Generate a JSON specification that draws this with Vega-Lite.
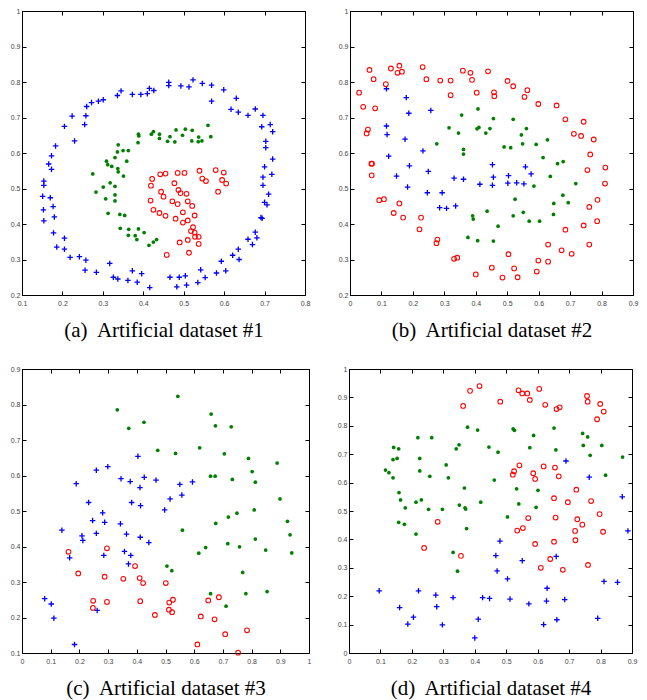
{
"$schema":"https://vega.github.io/schema/vega-lite/v6.json",
"padding":{"left":9,"top":6,"right":5,"bottom":5},
"background":"white",
"config":{"view":{"stroke":"black","strokeWidth":1},"axis":{"labelFont":"Liberation Sans","labelFontSize":7,"labelColor":"#444","labelFlush":false,"tickColor":"black","tickSize":-4,"tickWidth":1,"domain":true,"domainColor":"black","domainWidth":1,"grid":false,"labelPadding":8,"titleFont":"Liberation Serif","titleFontSize":21,"titleFontWeight":"normal","titleColor":"black","titlePadding":13},"axisY":{"labelPadding":6}},
"datasets":{
"a_b":[{"x":0.523,"y":0.806},{"x":0.546,"y":0.796},{"x":0.569,"y":0.791},{"x":0.493,"y":0.789},{"x":0.513,"y":0.786},{"x":0.463,"y":0.799},{"x":0.463,"y":0.79},{"x":0.599,"y":0.778},{"x":0.569,"y":0.746},{"x":0.63,"y":0.754},{"x":0.617,"y":0.723},{"x":0.635,"y":0.715},{"x":0.659,"y":0.706},{"x":0.677,"y":0.724},{"x":0.696,"y":0.706},{"x":0.693,"y":0.674},{"x":0.714,"y":0.68},{"x":0.72,"y":0.66},{"x":0.703,"y":0.633},{"x":0.703,"y":0.615},{"x":0.72,"y":0.583},{"x":0.7,"y":0.561},{"x":0.718,"y":0.54},{"x":0.696,"y":0.532},{"x":0.696,"y":0.509},{"x":0.71,"y":0.484},{"x":0.7,"y":0.461},{"x":0.706,"y":0.454},{"x":0.691,"y":0.418},{"x":0.694,"y":0.416},{"x":0.677,"y":0.377},{"x":0.681,"y":0.361},{"x":0.659,"y":0.357},{"x":0.67,"y":0.342},{"x":0.635,"y":0.329},{"x":0.637,"y":0.3},{"x":0.621,"y":0.312},{"x":0.593,"y":0.295},{"x":0.604,"y":0.268},{"x":0.581,"y":0.262},{"x":0.542,"y":0.271},{"x":0.553,"y":0.249},{"x":0.535,"y":0.235},{"x":0.504,"y":0.254},{"x":0.507,"y":0.228},{"x":0.489,"y":0.25},{"x":0.483,"y":0.223},{"x":0.466,"y":0.25},{"x":0.416,"y":0.221},{"x":0.396,"y":0.26},{"x":0.385,"y":0.236},{"x":0.373,"y":0.268},{"x":0.362,"y":0.241},{"x":0.337,"y":0.245},{"x":0.326,"y":0.25},{"x":0.317,"y":0.289},{"x":0.284,"y":0.264},{"x":0.256,"y":0.27},{"x":0.258,"y":0.298},{"x":0.242,"y":0.308},{"x":0.219,"y":0.306},{"x":0.205,"y":0.329},{"x":0.186,"y":0.335},{"x":0.205,"y":0.36},{"x":0.178,"y":0.375},{"x":0.18,"y":0.42},{"x":0.177,"y":0.449},{"x":0.17,"y":0.474},{"x":0.154,"y":0.409},{"x":0.153,"y":0.44},{"x":0.151,"y":0.478},{"x":0.154,"y":0.509},{"x":0.154,"y":0.521},{"x":0.173,"y":0.554},{"x":0.166,"y":0.569},{"x":0.173,"y":0.592},{"x":0.183,"y":0.62},{"x":0.23,"y":0.634},{"x":0.205,"y":0.675},{"x":0.224,"y":0.704},{"x":0.255,"y":0.68},{"x":0.258,"y":0.705},{"x":0.26,"y":0.731},{"x":0.272,"y":0.742},{"x":0.289,"y":0.746},{"x":0.301,"y":0.75},{"x":0.336,"y":0.762},{"x":0.345,"y":0.775},{"x":0.373,"y":0.765},{"x":0.394,"y":0.765},{"x":0.41,"y":0.767},{"x":0.415,"y":0.782},{"x":0.426,"y":0.776}],
"a_g":[{"x":0.56,"y":0.678},{"x":0.567,"y":0.646},{"x":0.537,"y":0.645},{"x":0.545,"y":0.634},{"x":0.536,"y":0.632},{"x":0.52,"y":0.634},{"x":0.521,"y":0.664},{"x":0.504,"y":0.667},{"x":0.497,"y":0.65},{"x":0.481,"y":0.665},{"x":0.478,"y":0.631},{"x":0.466,"y":0.646},{"x":0.46,"y":0.633},{"x":0.44,"y":0.641},{"x":0.44,"y":0.653},{"x":0.425,"y":0.66},{"x":0.42,"y":0.653},{"x":0.388,"y":0.653},{"x":0.389,"y":0.648},{"x":0.387,"y":0.629},{"x":0.338,"y":0.623},{"x":0.336,"y":0.603},{"x":0.35,"y":0.607},{"x":0.363,"y":0.607},{"x":0.33,"y":0.587},{"x":0.309,"y":0.577},{"x":0.312,"y":0.567},{"x":0.322,"y":0.562},{"x":0.337,"y":0.556},{"x":0.338,"y":0.547},{"x":0.359,"y":0.577},{"x":0.351,"y":0.535},{"x":0.275,"y":0.541},{"x":0.318,"y":0.516},{"x":0.33,"y":0.506},{"x":0.301,"y":0.504},{"x":0.283,"y":0.49},{"x":0.307,"y":0.471},{"x":0.33,"y":0.482},{"x":0.33,"y":0.465},{"x":0.313,"y":0.43},{"x":0.342,"y":0.427},{"x":0.354,"y":0.424},{"x":0.343,"y":0.388},{"x":0.364,"y":0.385},{"x":0.388,"y":0.386},{"x":0.402,"y":0.376},{"x":0.363,"y":0.368},{"x":0.38,"y":0.367},{"x":0.384,"y":0.356},{"x":0.414,"y":0.34},{"x":0.425,"y":0.349},{"x":0.433,"y":0.356}],
"a_r":[{"x":0.539,"y":0.55},{"x":0.579,"y":0.552},{"x":0.599,"y":0.545},{"x":0.546,"y":0.528},{"x":0.555,"y":0.521},{"x":0.595,"y":0.524},{"x":0.605,"y":0.514},{"x":0.585,"y":0.491},{"x":0.485,"y":0.544},{"x":0.502,"y":0.544},{"x":0.455,"y":0.542},{"x":0.442,"y":0.54},{"x":0.422,"y":0.527},{"x":0.419,"y":0.508},{"x":0.477,"y":0.515},{"x":0.487,"y":0.496},{"x":0.492,"y":0.487},{"x":0.507,"y":0.485},{"x":0.444,"y":0.491},{"x":0.45,"y":0.477},{"x":0.418,"y":0.466},{"x":0.472,"y":0.464},{"x":0.485,"y":0.456},{"x":0.51,"y":0.464},{"x":0.521,"y":0.451},{"x":0.425,"y":0.44},{"x":0.44,"y":0.431},{"x":0.455,"y":0.423},{"x":0.498,"y":0.433},{"x":0.527,"y":0.424},{"x":0.48,"y":0.415},{"x":0.51,"y":0.41},{"x":0.498,"y":0.404},{"x":0.523,"y":0.391},{"x":0.518,"y":0.38},{"x":0.527,"y":0.376},{"x":0.528,"y":0.364},{"x":0.537,"y":0.364},{"x":0.537,"y":0.344},{"x":0.51,"y":0.355},{"x":0.49,"y":0.348},{"x":0.513,"y":0.319},{"x":0.458,"y":0.313}],
"b_r":[{"x":0.029,"y":0.77},{"x":0.042,"y":0.73},{"x":0.062,"y":0.834},{"x":0.075,"y":0.808},{"x":0.08,"y":0.726},{"x":0.13,"y":0.838},{"x":0.114,"y":0.794},{"x":0.157,"y":0.846},{"x":0.151,"y":0.826},{"x":0.165,"y":0.829},{"x":0.231,"y":0.842},{"x":0.243,"y":0.808},{"x":0.287,"y":0.804},{"x":0.32,"y":0.804},{"x":0.32,"y":0.763},{"x":0.359,"y":0.832},{"x":0.383,"y":0.826},{"x":0.388,"y":0.806},{"x":0.403,"y":0.77},{"x":0.439,"y":0.83},{"x":0.458,"y":0.771},{"x":0.459,"y":0.76},{"x":0.501,"y":0.803},{"x":0.519,"y":0.788},{"x":0.564,"y":0.777},{"x":0.555,"y":0.758},{"x":0.599,"y":0.738},{"x":0.657,"y":0.734},{"x":0.685,"y":0.695},{"x":0.743,"y":0.688},{"x":0.712,"y":0.654},{"x":0.735,"y":0.648},{"x":0.775,"y":0.638},{"x":0.764,"y":0.596},{"x":0.755,"y":0.552},{"x":0.812,"y":0.559},{"x":0.811,"y":0.514},{"x":0.787,"y":0.468},{"x":0.761,"y":0.448},{"x":0.786,"y":0.408},{"x":0.743,"y":0.396},{"x":0.685,"y":0.384},{"x":0.761,"y":0.342},{"x":0.705,"y":0.316},{"x":0.673,"y":0.326},{"x":0.63,"y":0.342},{"x":0.599,"y":0.297},{"x":0.63,"y":0.294},{"x":0.594,"y":0.266},{"x":0.533,"y":0.25},{"x":0.522,"y":0.275},{"x":0.485,"y":0.249},{"x":0.451,"y":0.277},{"x":0.504,"y":0.315},{"x":0.4,"y":0.258},{"x":0.341,"y":0.305},{"x":0.331,"y":0.302},{"x":0.278,"y":0.356},{"x":0.275,"y":0.346},{"x":0.221,"y":0.385},{"x":0.226,"y":0.418},{"x":0.169,"y":0.418},{"x":0.139,"y":0.431},{"x":0.157,"y":0.458},{"x":0.108,"y":0.47},{"x":0.093,"y":0.467},{"x":0.069,"y":0.537},{"x":0.068,"y":0.57},{"x":0.07,"y":0.57},{"x":0.057,"y":0.666},{"x":0.053,"y":0.655}],
"b_b":[{"x":0.116,"y":0.781},{"x":0.179,"y":0.756},{"x":0.187,"y":0.712},{"x":0.257,"y":0.72},{"x":0.116,"y":0.676},{"x":0.118,"y":0.652},{"x":0.175,"y":0.639},{"x":0.123,"y":0.591},{"x":0.232,"y":0.606},{"x":0.189,"y":0.564},{"x":0.148,"y":0.535},{"x":0.249,"y":0.548},{"x":0.183,"y":0.504},{"x":0.246,"y":0.488},{"x":0.293,"y":0.488},{"x":0.285,"y":0.446},{"x":0.307,"y":0.444},{"x":0.336,"y":0.451},{"x":0.331,"y":0.529},{"x":0.361,"y":0.526},{"x":0.413,"y":0.512},{"x":0.453,"y":0.567},{"x":0.456,"y":0.532},{"x":0.453,"y":0.509},{"x":0.504,"y":0.536},{"x":0.502,"y":0.515},{"x":0.53,"y":0.516},{"x":0.553,"y":0.513},{"x":0.558,"y":0.561},{"x":0.576,"y":0.541}],
"b_g":[{"x":0.407,"y":0.724},{"x":0.355,"y":0.707},{"x":0.456,"y":0.697},{"x":0.519,"y":0.695},{"x":0.315,"y":0.671},{"x":0.404,"y":0.668},{"x":0.41,"y":0.672},{"x":0.445,"y":0.669},{"x":0.561,"y":0.669},{"x":0.345,"y":0.656},{"x":0.432,"y":0.656},{"x":0.545,"y":0.651},{"x":0.276,"y":0.626},{"x":0.361,"y":0.61},{"x":0.361,"y":0.597},{"x":0.49,"y":0.617},{"x":0.511,"y":0.615},{"x":0.549,"y":0.626},{"x":0.592,"y":0.624},{"x":0.628,"y":0.637},{"x":0.614,"y":0.587},{"x":0.66,"y":0.57},{"x":0.678,"y":0.576},{"x":0.637,"y":0.534},{"x":0.585,"y":0.507},{"x":0.718,"y":0.514},{"x":0.677,"y":0.481},{"x":0.525,"y":0.47},{"x":0.648,"y":0.458},{"x":0.694,"y":0.46},{"x":0.551,"y":0.433},{"x":0.647,"y":0.427},{"x":0.519,"y":0.423},{"x":0.57,"y":0.408},{"x":0.603,"y":0.408},{"x":0.436,"y":0.436},{"x":0.39,"y":0.423},{"x":0.392,"y":0.414},{"x":0.471,"y":0.394},{"x":0.375,"y":0.362},{"x":0.406,"y":0.353},{"x":0.456,"y":0.352}],
"c_g":[{"x":0.543,"y":0.823},{"x":0.332,"y":0.785},{"x":0.425,"y":0.75},{"x":0.372,"y":0.733},{"x":0.659,"y":0.773},{"x":0.674,"y":0.74},{"x":0.729,"y":0.737},{"x":0.473,"y":0.671},{"x":0.535,"y":0.662},{"x":0.619,"y":0.678},{"x":0.705,"y":0.661},{"x":0.789,"y":0.648},{"x":0.889,"y":0.635},{"x":0.657,"y":0.598},{"x":0.673,"y":0.598},{"x":0.733,"y":0.589},{"x":0.802,"y":0.611},{"x":0.813,"y":0.581},{"x":0.899,"y":0.534},{"x":0.559,"y":0.446},{"x":0.675,"y":0.465},{"x":0.719,"y":0.483},{"x":0.749,"y":0.494},{"x":0.809,"y":0.503},{"x":0.925,"y":0.471},{"x":0.934,"y":0.433},{"x":0.94,"y":0.382},{"x":0.813,"y":0.421},{"x":0.849,"y":0.39},{"x":0.758,"y":0.399},{"x":0.717,"y":0.408},{"x":0.64,"y":0.397},{"x":0.616,"y":0.381},{"x":0.505,"y":0.345},{"x":0.522,"y":0.332},{"x":0.769,"y":0.327},{"x":0.657,"y":0.267},{"x":0.78,"y":0.267},{"x":0.854,"y":0.273},{"x":0.711,"y":0.232}],
"c_b":[{"x":0.404,"y":0.654},{"x":0.299,"y":0.625},{"x":0.259,"y":0.615},{"x":0.345,"y":0.591},{"x":0.377,"y":0.583},{"x":0.426,"y":0.595},{"x":0.467,"y":0.587},{"x":0.55,"y":0.575},{"x":0.594,"y":0.582},{"x":0.557,"y":0.545},{"x":0.516,"y":0.534},{"x":0.189,"y":0.577},{"x":0.232,"y":0.524},{"x":0.382,"y":0.524},{"x":0.413,"y":0.515},{"x":0.497,"y":0.503},{"x":0.411,"y":0.566},{"x":0.281,"y":0.495},{"x":0.246,"y":0.473},{"x":0.288,"y":0.468},{"x":0.343,"y":0.464},{"x":0.139,"y":0.446},{"x":0.259,"y":0.437},{"x":0.364,"y":0.435},{"x":0.412,"y":0.426},{"x":0.442,"y":0.411},{"x":0.209,"y":0.43},{"x":0.212,"y":0.417},{"x":0.357,"y":0.386},{"x":0.379,"y":0.375},{"x":0.285,"y":0.375},{"x":0.371,"y":0.351},{"x":0.166,"y":0.368},{"x":0.079,"y":0.253},{"x":0.102,"y":0.238},{"x":0.111,"y":0.198},{"x":0.262,"y":0.22},{"x":0.183,"y":0.124}],
"c_r":[{"x":0.162,"y":0.385},{"x":0.296,"y":0.395},{"x":0.196,"y":0.324},{"x":0.288,"y":0.315},{"x":0.353,"y":0.309},{"x":0.394,"y":0.345},{"x":0.41,"y":0.311},{"x":0.422,"y":0.297},{"x":0.501,"y":0.297},{"x":0.248,"y":0.247},{"x":0.247,"y":0.227},{"x":0.296,"y":0.244},{"x":0.412,"y":0.246},{"x":0.463,"y":0.207},{"x":0.513,"y":0.242},{"x":0.526,"y":0.25},{"x":0.512,"y":0.222},{"x":0.523,"y":0.215},{"x":0.623,"y":0.203},{"x":0.649,"y":0.248},{"x":0.686,"y":0.257},{"x":0.671,"y":0.195},{"x":0.708,"y":0.153},{"x":0.784,"y":0.164},{"x":0.611,"y":0.124},{"x":0.753,"y":0.101}],
"d_r":[{"x":0.363,"y":0.87},{"x":0.385,"y":0.923},{"x":0.415,"y":0.94},{"x":0.481,"y":0.885},{"x":0.539,"y":0.925},{"x":0.551,"y":0.914},{"x":0.567,"y":0.914},{"x":0.575,"y":0.891},{"x":0.605,"y":0.93},{"x":0.624,"y":0.874},{"x":0.66,"y":0.859},{"x":0.67,"y":0.865},{"x":0.757,"y":0.905},{"x":0.759,"y":0.885},{"x":0.799,"y":0.877},{"x":0.81,"y":0.85},{"x":0.789,"y":0.823},{"x":0.542,"y":0.661},{"x":0.525,"y":0.64},{"x":0.521,"y":0.628},{"x":0.619,"y":0.657},{"x":0.655,"y":0.653},{"x":0.667,"y":0.622},{"x":0.586,"y":0.633},{"x":0.592,"y":0.613},{"x":0.723,"y":0.575},{"x":0.652,"y":0.545},{"x":0.696,"y":0.531},{"x":0.77,"y":0.535},{"x":0.57,"y":0.475},{"x":0.657,"y":0.477},{"x":0.797,"y":0.489},{"x":0.726,"y":0.471},{"x":0.742,"y":0.452},{"x":0.719,"y":0.43},{"x":0.808,"y":0.427},{"x":0.553,"y":0.44},{"x":0.535,"y":0.431},{"x":0.72,"y":0.397},{"x":0.592,"y":0.384},{"x":0.652,"y":0.392},{"x":0.64,"y":0.331},{"x":0.61,"y":0.3},{"x":0.68,"y":0.293},{"x":0.76,"y":0.31},{"x":0.282,"y":0.462},{"x":0.239,"y":0.37},{"x":0.356,"y":0.342}],
"d_g":[{"x":0.377,"y":0.795},{"x":0.409,"y":0.785},{"x":0.522,"y":0.789},{"x":0.526,"y":0.784},{"x":0.652,"y":0.792},{"x":0.587,"y":0.766},{"x":0.743,"y":0.773},{"x":0.759,"y":0.761},{"x":0.219,"y":0.758},{"x":0.263,"y":0.758},{"x":0.142,"y":0.724},{"x":0.158,"y":0.719},{"x":0.35,"y":0.733},{"x":0.341,"y":0.719},{"x":0.445,"y":0.725},{"x":0.474,"y":0.707},{"x":0.575,"y":0.723},{"x":0.658,"y":0.715},{"x":0.745,"y":0.731},{"x":0.804,"y":0.731},{"x":0.767,"y":0.696},{"x":0.87,"y":0.69},{"x":0.14,"y":0.681},{"x":0.153,"y":0.685},{"x":0.225,"y":0.685},{"x":0.116,"y":0.644},{"x":0.127,"y":0.635},{"x":0.14,"y":0.617},{"x":0.225,"y":0.641},{"x":0.309,"y":0.662},{"x":0.257,"y":0.622},{"x":0.316,"y":0.617},{"x":0.462,"y":0.609},{"x":0.816,"y":0.626},{"x":0.367,"y":0.581},{"x":0.533,"y":0.578},{"x":0.601,"y":0.573},{"x":0.159,"y":0.565},{"x":0.164,"y":0.539},{"x":0.179,"y":0.511},{"x":0.213,"y":0.531},{"x":0.23,"y":0.539},{"x":0.253,"y":0.506},{"x":0.297,"y":0.506},{"x":0.351,"y":0.521},{"x":0.369,"y":0.511},{"x":0.371,"y":0.507},{"x":0.419,"y":0.531},{"x":0.54,"y":0.525},{"x":0.595,"y":0.513},{"x":0.504,"y":0.479},{"x":0.158,"y":0.46},{"x":0.176,"y":0.453},{"x":0.213,"y":0.419},{"x":0.374,"y":0.438},{"x":0.331,"y":0.354},{"x":0.345,"y":0.288}],
"d_b":[{"x":0.69,"y":0.676},{"x":0.764,"y":0.619},{"x":0.869,"y":0.55},{"x":0.887,"y":0.43},{"x":0.48,"y":0.394},{"x":0.467,"y":0.343},{"x":0.551,"y":0.325},{"x":0.659,"y":0.34},{"x":0.471,"y":0.289},{"x":0.504,"y":0.261},{"x":0.63,"y":0.228},{"x":0.811,"y":0.252},{"x":0.854,"y":0.249},{"x":0.096,"y":0.219},{"x":0.221,"y":0.219},{"x":0.276,"y":0.204},{"x":0.331,"y":0.195},{"x":0.425,"y":0.195},{"x":0.447,"y":0.192},{"x":0.512,"y":0.19},{"x":0.572,"y":0.173},{"x":0.628,"y":0.183},{"x":0.686,"y":0.188},{"x":0.161,"y":0.16},{"x":0.279,"y":0.163},{"x":0.205,"y":0.126},{"x":0.187,"y":0.102},{"x":0.297,"y":0.099},{"x":0.411,"y":0.119},{"x":0.619,"y":0.1},{"x":0.661,"y":0.117},{"x":0.791,"y":0.122},{"x":0.4,"y":0.053}]
},
"vconcat":[
{"hconcat":[
{"width":283,"height":284,
 "layer":[
  {"data":{"name":"a_b"},"mark":{"type":"point","shape":"M-1,0H1M0,-1V1","size":30,"stroke":"#0000ff","strokeWidth":1.3,"filled":false,"opacity":1},
   "encoding":{"x":{"field":"x","type":"quantitative","scale":{"domain":[0.1,0.8],"nice":false,"zero":false},"axis":{"values":[0.1,0.2,0.3,0.4,0.5,0.6,0.7,0.8],"format":"~g","title":"(a)\u00a0 Artificial dataset #1"}},
               "y":{"field":"y","type":"quantitative","scale":{"domain":[0.2,1],"nice":false,"zero":false},"axis":{"values":[0.2,0.3,0.4,0.5,0.6,0.7,0.8,0.9,1],"format":"~g","title":null}}}},
  {"data":{"name":"a_r"},"mark":{"type":"point","shape":"circle","size":22,"stroke":"#ff0000","strokeWidth":1.1,"filled":false,"opacity":1},
   "encoding":{"x":{"field":"x","type":"quantitative","scale":{"domain":[0.1,0.8],"nice":false,"zero":false},"axis":{"orient":"top","values":[0.1,0.2,0.3,0.4,0.5,0.6,0.7,0.8],"labels":false,"title":null}},
               "y":{"field":"y","type":"quantitative","scale":{"domain":[0.2,1],"nice":false,"zero":false},"axis":{"orient":"right","values":[0.2,0.3,0.4,0.5,0.6,0.7,0.8,0.9,1],"labels":false,"title":null}}}},
  {"data":{"name":"a_g"},"mark":{"type":"point","shape":"circle","size":14,"filled":true,"color":"#008000","opacity":1},
   "encoding":{"x":{"field":"x","type":"quantitative","axis":null},"y":{"field":"y","type":"quantitative","axis":null}}}
 ],
 "resolve":{"axis":{"x":"independent","y":"independent"}}},
{"width":283,"height":284,
 "layer":[
  {"data":{"name":"b_b"},"mark":{"type":"point","shape":"M-1,0H1M0,-1V1","size":30,"stroke":"#0000ff","strokeWidth":1.3,"filled":false,"opacity":1},
   "encoding":{"x":{"field":"x","type":"quantitative","scale":{"domain":[0,0.9],"nice":false,"zero":false},"axis":{"values":[0,0.1,0.2,0.3,0.4,0.5,0.6,0.7,0.8,0.9],"format":"~g","title":"(b)\u00a0 Artificial dataset #2"}},
               "y":{"field":"y","type":"quantitative","scale":{"domain":[0.2,1],"nice":false,"zero":false},"axis":{"values":[0.2,0.3,0.4,0.5,0.6,0.7,0.8,0.9,1],"format":"~g","title":null}}}},
  {"data":{"name":"b_r"},"mark":{"type":"point","shape":"circle","size":22,"stroke":"#ff0000","strokeWidth":1.1,"filled":false,"opacity":1},
   "encoding":{"x":{"field":"x","type":"quantitative","scale":{"domain":[0,0.9],"nice":false,"zero":false},"axis":{"orient":"top","values":[0,0.1,0.2,0.3,0.4,0.5,0.6,0.7,0.8,0.9],"labels":false,"title":null}},
               "y":{"field":"y","type":"quantitative","scale":{"domain":[0.2,1],"nice":false,"zero":false},"axis":{"orient":"right","values":[0.2,0.3,0.4,0.5,0.6,0.7,0.8,0.9,1],"labels":false,"title":null}}}},
  {"data":{"name":"b_g"},"mark":{"type":"point","shape":"circle","size":14,"filled":true,"color":"#008000","opacity":1},
   "encoding":{"x":{"field":"x","type":"quantitative","axis":null},"y":{"field":"y","type":"quantitative","axis":null}}}
 ],
 "resolve":{"axis":{"x":"independent","y":"independent"}}}
],"spacing":26},
{"hconcat":[
{"width":287,"height":284,
 "layer":[
  {"data":{"name":"c_b"},"mark":{"type":"point","shape":"M-1,0H1M0,-1V1","size":30,"stroke":"#0000ff","strokeWidth":1.3,"filled":false,"opacity":1},
   "encoding":{"x":{"field":"x","type":"quantitative","scale":{"domain":[0,1],"nice":false,"zero":false},"axis":{"values":[0,0.1,0.2,0.3,0.4,0.5,0.6,0.7,0.8,0.9,1],"format":"~g","title":"(c)\u00a0 Artificial dataset #3"}},
               "y":{"field":"y","type":"quantitative","scale":{"domain":[0.1,0.9],"nice":false,"zero":false},"axis":{"values":[0.1,0.2,0.3,0.4,0.5,0.6,0.7,0.8,0.9],"format":"~g","title":null}}}},
  {"data":{"name":"c_r"},"mark":{"type":"point","shape":"circle","size":22,"stroke":"#ff0000","strokeWidth":1.1,"filled":false,"opacity":1},
   "encoding":{"x":{"field":"x","type":"quantitative","scale":{"domain":[0,1],"nice":false,"zero":false},"axis":{"orient":"top","values":[0,0.1,0.2,0.3,0.4,0.5,0.6,0.7,0.8,0.9,1],"labels":false,"title":null}},
               "y":{"field":"y","type":"quantitative","scale":{"domain":[0.1,0.9],"nice":false,"zero":false},"axis":{"orient":"right","values":[0.1,0.2,0.3,0.4,0.5,0.6,0.7,0.8,0.9],"labels":false,"title":null}}}},
  {"data":{"name":"c_g"},"mark":{"type":"point","shape":"circle","size":14,"filled":true,"color":"#008000","opacity":1},
   "encoding":{"x":{"field":"x","type":"quantitative","axis":null},"y":{"field":"y","type":"quantitative","axis":null}}}
 ],
 "resolve":{"axis":{"x":"independent","y":"independent"}}},
{"width":283,"height":284,
 "layer":[
  {"data":{"name":"d_b"},"mark":{"type":"point","shape":"M-1,0H1M0,-1V1","size":30,"stroke":"#0000ff","strokeWidth":1.3,"filled":false,"opacity":1},
   "encoding":{"x":{"field":"x","type":"quantitative","scale":{"domain":[0,0.9],"nice":false,"zero":false},"axis":{"values":[0,0.1,0.2,0.3,0.4,0.5,0.6,0.7,0.8,0.9],"format":"~g","title":"(d)\u00a0 Artificial dataset #4"}},
               "y":{"field":"y","type":"quantitative","scale":{"domain":[0,1],"nice":false,"zero":false},"axis":{"values":[0,0.1,0.2,0.3,0.4,0.5,0.6,0.7,0.8,0.9,1],"format":"~g","title":null}}}},
  {"data":{"name":"d_r"},"mark":{"type":"point","shape":"circle","size":22,"stroke":"#ff0000","strokeWidth":1.1,"filled":false,"opacity":1},
   "encoding":{"x":{"field":"x","type":"quantitative","scale":{"domain":[0,0.9],"nice":false,"zero":false},"axis":{"orient":"top","values":[0,0.1,0.2,0.3,0.4,0.5,0.6,0.7,0.8,0.9],"labels":false,"title":null}},
               "y":{"field":"y","type":"quantitative","scale":{"domain":[0,1],"nice":false,"zero":false},"axis":{"orient":"right","values":[0,0.1,0.2,0.3,0.4,0.5,0.6,0.7,0.8,0.9,1],"labels":false,"title":null}}}},
  {"data":{"name":"d_g"},"mark":{"type":"point","shape":"circle","size":14,"filled":true,"color":"#008000","opacity":1},
   "encoding":{"x":{"field":"x","type":"quantitative","axis":null},"y":{"field":"y","type":"quantitative","axis":null}}}
 ],
 "resolve":{"axis":{"x":"independent","y":"independent"}}}
],"spacing":24}
],
"spacing":23
}
